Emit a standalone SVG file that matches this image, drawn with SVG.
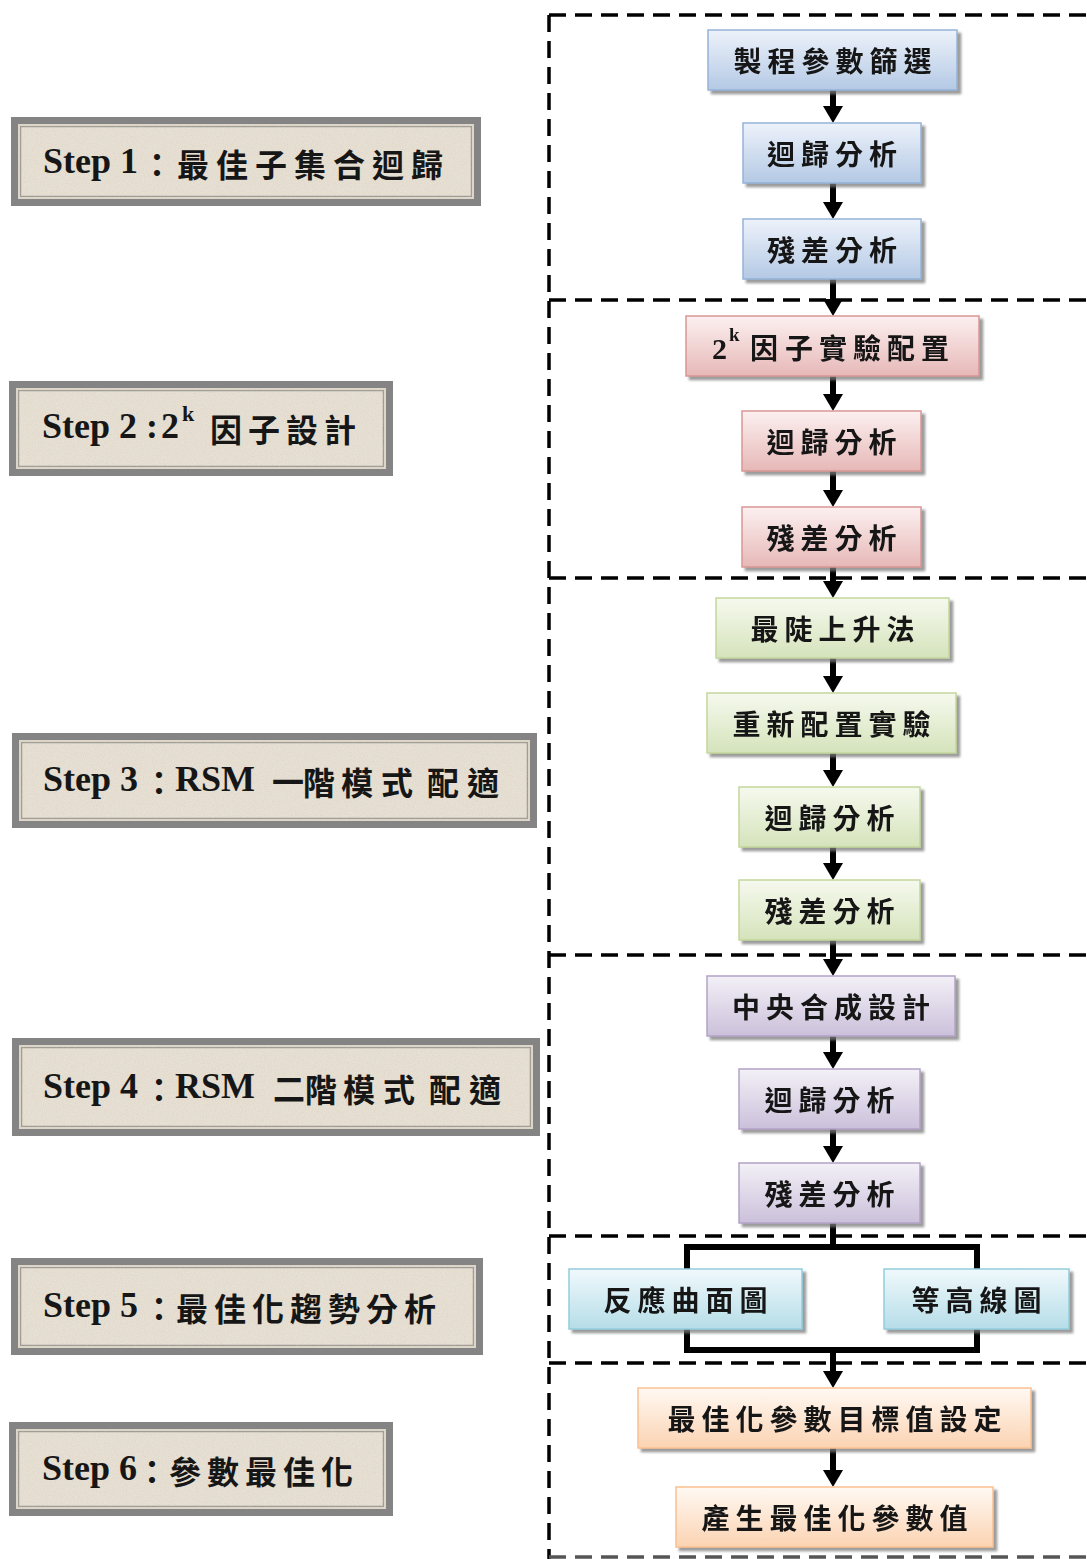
<svg xmlns="http://www.w3.org/2000/svg" width="1087" height="1559" viewBox="0 0 1087 1559">
<style>
.lat{font-family:'Liberation Serif',serif;font-weight:bold;font-size:36px;fill:#161616}
.cjk{font-family:'Noto Sans CJK TC',sans-serif;font-weight:bold;font-size:32px;fill:#161616}
.bt{font-family:'Noto Sans CJK TC',sans-serif;font-weight:bold;font-size:28px;letter-spacing:6px;text-anchor:middle;fill:#141414}
.bt2{font-family:'Noto Sans CJK TC',sans-serif;font-weight:bold;font-size:28px;fill:#141414}
.sup{font-family:'Liberation Serif',serif;font-weight:bold;fill:#161616}
.outer{fill:#848484}
.mid{fill:#ddd6c8}
.inner{fill:#e7e0d3;stroke:#9d9a94;stroke-width:1.5}
.dash{stroke:#000;stroke-width:3.5;stroke-dasharray:17 9;fill:none}
.conn{stroke:#000;stroke-width:6;fill:none}
.blue{fill:url(#gBlue);stroke:#95b3d7;stroke-width:1.5}
.red{fill:url(#gRed);stroke:#d99694;stroke-width:1.5}
.green{fill:url(#gGreen);stroke:#c3d69b;stroke-width:1.5}
.purple{fill:url(#gPurple);stroke:#b3a2c7;stroke-width:1.5}
.cyan{fill:url(#gCyan);stroke:#93cddd;stroke-width:1.5}
.orange{fill:url(#gOrange);stroke:#fac090;stroke-width:1.5}
</style>
<defs>
<linearGradient id="gBlue" x1="0" y1="0" x2="0" y2="1"><stop offset="0" stop-color="#edf2fa"/><stop offset="1" stop-color="#b4c9e5"/></linearGradient>
<linearGradient id="gRed" x1="0" y1="0" x2="0" y2="1"><stop offset="0" stop-color="#fcf0f0"/><stop offset="1" stop-color="#e6b8b7"/></linearGradient>
<linearGradient id="gGreen" x1="0" y1="0" x2="0" y2="1"><stop offset="0" stop-color="#f6f9ee"/><stop offset="1" stop-color="#d5e3bb"/></linearGradient>
<linearGradient id="gPurple" x1="0" y1="0" x2="0" y2="1"><stop offset="0" stop-color="#f3f0f7"/><stop offset="1" stop-color="#cbc0da"/></linearGradient>
<linearGradient id="gCyan" x1="0" y1="0" x2="0" y2="1"><stop offset="0" stop-color="#f0f9fc"/><stop offset="1" stop-color="#b6dde8"/></linearGradient>
<linearGradient id="gOrange" x1="0" y1="0" x2="0" y2="1"><stop offset="0" stop-color="#fff9f3"/><stop offset="1" stop-color="#fbd3b2"/></linearGradient>
<filter id="shadow" x="-5%" y="-10%" width="115%" height="130%">
<feDropShadow dx="3.5" dy="3.5" stdDeviation="0.8" flood-color="#7a7a7a" flood-opacity="0.75"/>
</filter>
<filter id="paper" x="0" y="0" width="100%" height="100%">
<feTurbulence type="fractalNoise" baseFrequency="0.9" numOctaves="2" seed="4" result="n"/>
<feColorMatrix in="n" type="matrix" values="0 0 0 0 0.55  0 0 0 0 0.52  0 0 0 0 0.47  0.6 0 0 0 -0.22" result="s"/>
<feComposite in="s" in2="SourceGraphic" operator="in" result="sc"/>
<feMerge><feMergeNode in="SourceGraphic"/><feMergeNode in="sc"/></feMerge>
</filter>
<marker id="ah" markerUnits="userSpaceOnUse" markerWidth="18" markerHeight="20" refX="3" refY="10" orient="auto">
<path d="M0,0 L17,10 L0,20 z" fill="#000"/>
</marker>
</defs>

<g id="frame">
<line class="dash" x1="549" y1="15" x2="549" y2="1559"/>
<line class="dash" x1="549" y1="15" x2="1087" y2="15"/>
<line class="dash" x1="549" y1="300" x2="1087" y2="300"/>
<line class="dash" x1="549" y1="578" x2="1087" y2="578"/>
<line class="dash" x1="549" y1="955" x2="1087" y2="955"/>
<line class="dash" x1="549" y1="1236" x2="1087" y2="1236"/>
<line class="dash" x1="549" y1="1363" x2="1087" y2="1363"/>
<line class="dash" x1="549" y1="1557" x2="1087" y2="1557" style="stroke:#555"/>
</g>

<g id="step1">
<rect class="outer" x="11" y="117" width="470" height="89"/>
<rect class="mid" x="18" y="124" width="456" height="75"/>
<rect class="inner" x="20.5" y="126.5" width="451" height="70" filter="url(#paper)"/>
<text class="lat" x="43" y="173">Step 1</text>
<text class="cjk" x="141 177 216 255 294 333 372 411" y="177">：最佳子集合迴歸</text>
</g>
<g id="step2">
<rect class="outer" x="9" y="381" width="384" height="95"/>
<rect class="mid" x="16" y="388" width="370" height="81"/>
<rect class="inner" x="18.5" y="390.5" width="365" height="76" filter="url(#paper)"/>
<text class="lat" x="42" y="438">Step 2</text>
<text class="lat" x="146" y="438">:</text>
<text class="lat" x="161" y="438">2</text>
<text class="sup" x="182" y="421" font-size="22">k</text>
<text class="cjk" x="210 248 286 324" y="442">因子設計</text>
</g>
<g id="step3">
<rect class="outer" x="12" y="733" width="525" height="95"/>
<rect class="mid" x="19" y="740" width="511" height="81"/>
<rect class="inner" x="21.5" y="742.5" width="506" height="76" filter="url(#paper)"/>
<text class="lat" x="43" y="791">Step 3</text>
<text class="cjk" x="143" y="795">：</text>
<text class="lat" x="175" y="791">RSM</text>
<text class="cjk" x="272" y="794" font-size="25">一</text>
<text class="cjk" x="303 341 381 427 467" y="795">階模式配適</text>
</g>
<g id="step4">
<rect class="outer" x="12" y="1038" width="528" height="98"/>
<rect class="mid" x="19" y="1045" width="514" height="84"/>
<rect class="inner" x="21.5" y="1047.5" width="509" height="79" filter="url(#paper)"/>
<text class="lat" x="43" y="1098">Step 4</text>
<text class="cjk" x="143" y="1102">：</text>
<text class="lat" x="175" y="1098">RSM</text>
<text class="cjk" x="273" y="1101" font-size="26">二</text>
<text class="cjk" x="305 343 383 429 469" y="1102">階模式配適</text>
</g>
<g id="step5">
<rect class="outer" x="11" y="1258" width="472" height="97"/>
<rect class="mid" x="18" y="1265" width="458" height="83"/>
<rect class="inner" x="20.5" y="1267.5" width="453" height="78" filter="url(#paper)"/>
<text class="lat" x="43" y="1317">Step 5</text>
<text class="cjk" x="143 176 214 252 290 328 366 404" y="1321">：最佳化趨勢分析</text>
</g>
<g id="step6">
<rect class="outer" x="9" y="1422" width="384" height="94"/>
<rect class="mid" x="16" y="1429" width="370" height="80"/>
<rect class="inner" x="18.5" y="1431.5" width="365" height="75" filter="url(#paper)"/>
<text class="lat" x="42" y="1480">Step 6</text>
<text class="cjk" x="136 169 207 245 283 321" y="1484">：參數最佳化</text>
</g>

<g id="connectors">
<line class="conn" x1="833" y1="90" x2="833" y2="109" marker-end="url(#ah)"/>
<line class="conn" x1="833" y1="183" x2="833" y2="205" marker-end="url(#ah)"/>
<line class="conn" x1="833" y1="279" x2="833" y2="302" marker-end="url(#ah)"/>
<line class="conn" x1="833" y1="376" x2="833" y2="397" marker-end="url(#ah)"/>
<line class="conn" x1="833" y1="471" x2="833" y2="493" marker-end="url(#ah)"/>
<line class="conn" x1="833" y1="567" x2="833" y2="584" marker-end="url(#ah)"/>
<line class="conn" x1="833" y1="658" x2="833" y2="679" marker-end="url(#ah)"/>
<line class="conn" x1="833" y1="753" x2="833" y2="773" marker-end="url(#ah)"/>
<line class="conn" x1="833" y1="847" x2="833" y2="866" marker-end="url(#ah)"/>
<line class="conn" x1="833" y1="940" x2="833" y2="962" marker-end="url(#ah)"/>
<line class="conn" x1="833" y1="1036" x2="833" y2="1055" marker-end="url(#ah)"/>
<line class="conn" x1="833" y1="1129" x2="833" y2="1149" marker-end="url(#ah)"/>
<path class="conn" d="M833,1223 V1247 M687,1271 V1247 H977 V1271 M687,1327 V1350 H977 V1327"/>
<line class="conn" x1="833" y1="1350" x2="833" y2="1374" marker-end="url(#ah)"/>
<line class="conn" x1="833" y1="1448" x2="833" y2="1473" marker-end="url(#ah)"/>
</g>

<g id="n1" filter="url(#shadow)"><rect class="blue" x="708" y="30" width="249" height="60"/><text class="bt" x="835.5" y="72">製程參數篩選</text></g>
<g id="n2" filter="url(#shadow)"><rect class="blue" x="743" y="123" width="178" height="60"/><text class="bt" x="835" y="165">迴歸分析</text></g>
<g id="n3" filter="url(#shadow)"><rect class="blue" x="743" y="219" width="178" height="60"/><text class="bt" x="835" y="261">殘差分析</text></g>
<g id="n4" filter="url(#shadow)"><rect class="red" x="686" y="316" width="293" height="60"/><text class="sup" x="712" y="359" font-size="30">2</text><text class="sup" x="729" y="341" font-size="19">k</text><text class="bt2" x="750 785 819 853 887 921" y="359">因子實驗配置</text></g>
<g id="n5" filter="url(#shadow)"><rect class="red" x="742" y="411" width="179" height="60"/><text class="bt" x="834.5" y="453">迴歸分析</text></g>
<g id="n6" filter="url(#shadow)"><rect class="red" x="742" y="507" width="179" height="60"/><text class="bt" x="834.5" y="549">殘差分析</text></g>
<g id="n7" filter="url(#shadow)"><rect class="green" x="716" y="598" width="233" height="60"/><text class="bt" x="835.5" y="640">最陡上升法</text></g>
<g id="n8" filter="url(#shadow)"><rect class="green" x="707" y="693" width="249" height="60"/><text class="bt" x="834.5" y="735">重新配置實驗</text></g>
<g id="n9" filter="url(#shadow)"><rect class="green" x="739" y="787" width="181" height="60"/><text class="bt" x="832.5" y="829">迴歸分析</text></g>
<g id="n10" filter="url(#shadow)"><rect class="green" x="739" y="880" width="181" height="60"/><text class="bt" x="832.5" y="922">殘差分析</text></g>
<g id="n11" filter="url(#shadow)"><rect class="purple" x="707" y="976" width="248" height="60"/><text class="bt" x="834" y="1018">中央合成設計</text></g>
<g id="n12" filter="url(#shadow)"><rect class="purple" x="739" y="1069" width="181" height="60"/><text class="bt" x="832.5" y="1111">迴歸分析</text></g>
<g id="n13" filter="url(#shadow)"><rect class="purple" x="739" y="1163" width="181" height="60"/><text class="bt" x="832.5" y="1205">殘差分析</text></g>
<g id="n14" filter="url(#shadow)"><rect class="cyan" x="569" y="1269" width="233" height="60"/><text class="bt" x="688.5" y="1311">反應曲面圖</text></g>
<g id="n15" filter="url(#shadow)"><rect class="cyan" x="884" y="1269" width="185" height="60"/><text class="bt" x="979.5" y="1311">等高線圖</text></g>
<g id="n16" filter="url(#shadow)"><rect class="orange" x="638" y="1388" width="393" height="60"/><text class="bt" x="837.5" y="1430">最佳化參數目標值設定</text></g>
<g id="n17" filter="url(#shadow)"><rect class="orange" x="676" y="1487" width="317" height="60"/><text class="bt" x="837.5" y="1529">產生最佳化參數值</text></g>
</svg>
